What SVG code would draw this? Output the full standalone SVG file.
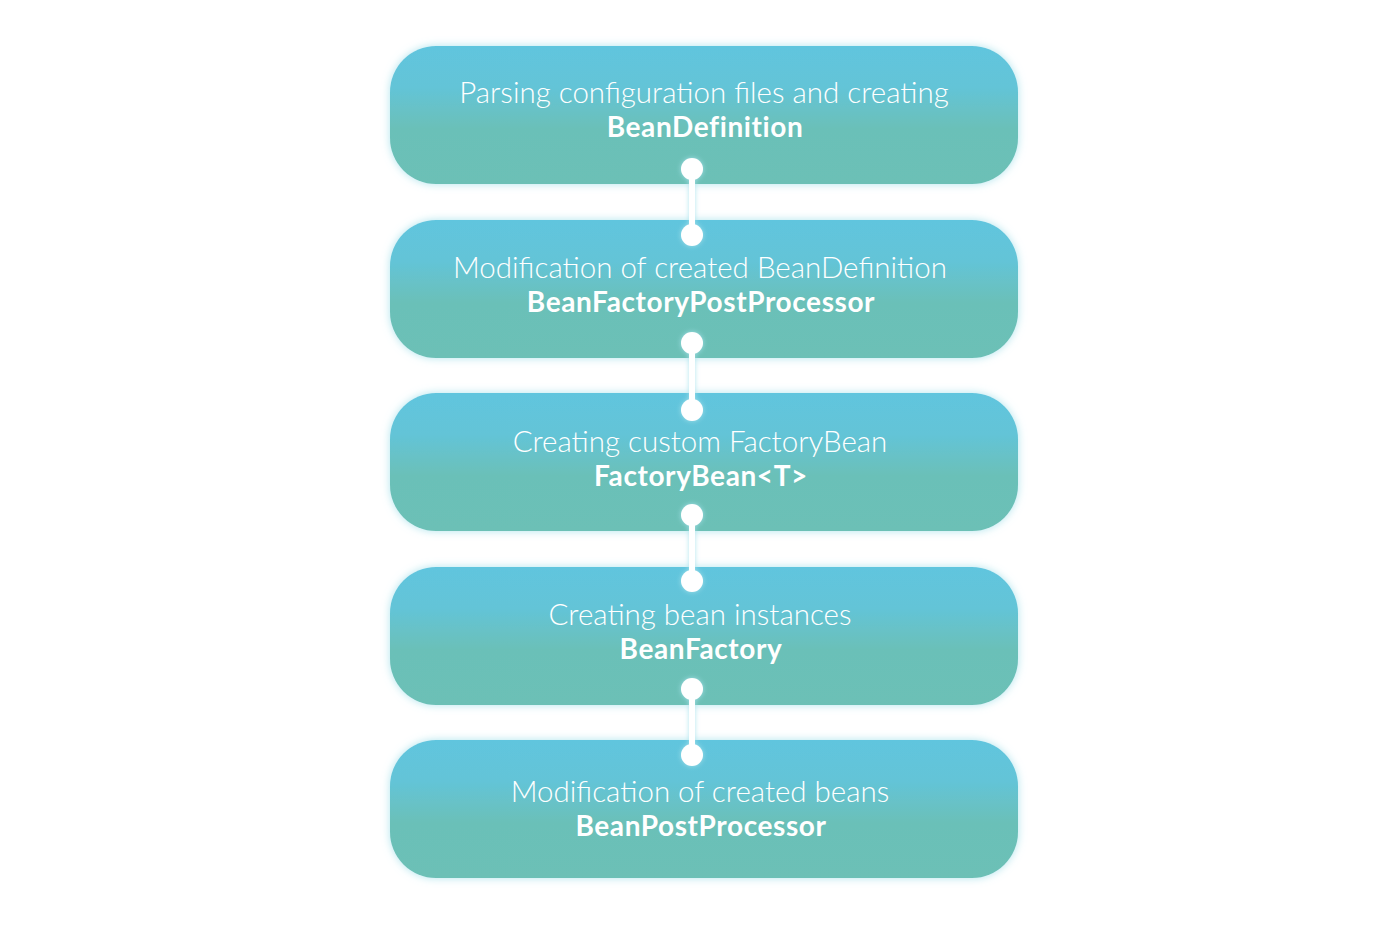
<svg xmlns="http://www.w3.org/2000/svg" width="1400" height="927" viewBox="0 0 1400 927">
<defs>
<linearGradient id="g" x1="0" y1="0" x2="0" y2="1">
<stop offset="0" stop-color="#61c5de"/>
<stop offset="0.3" stop-color="#63c4d7"/>
<stop offset="0.6" stop-color="#6bc0b8"/>
<stop offset="1" stop-color="#6cc0b6"/>
</linearGradient>
<filter id="glow" x="-10%" y="-20%" width="120%" height="140%">
<feDropShadow dx="0" dy="0" stdDeviation="4" flood-color="#a8e2ec" flood-opacity="0.9"/>
</filter>
<filter id="glow2" x="-100%" y="-20%" width="300%" height="140%">
<feDropShadow dx="0" dy="0" stdDeviation="2.5" flood-color="#a8e2ec" flood-opacity="0.9"/>
</filter>
<style>
.box{fill:url(#g);filter:url(#glow)}
.t1{font-family:Lato,"Liberation Sans",sans-serif;font-weight:300;font-size:29.5px;fill:#fff;text-anchor:middle}
.t2{font-family:Lato,"Liberation Sans",sans-serif;font-weight:700;font-size:28px;letter-spacing:0.6px;fill:#fff;text-anchor:middle}
.dot{fill:#fff}
.ln{stroke:#fff;stroke-width:6}
</style>
</defs>
<rect width="1400" height="927" fill="#fff"/>
<g id="node1"><rect class="box" x="390" y="46" width="628" height="138" rx="46"/><text class="t1" x="704" y="103">Parsing configuration files and creating</text><text class="t2" x="705" y="137">BeanDefinition</text></g>
<g id="node2"><rect class="box" x="390" y="220" width="628" height="138" rx="46"/><text class="t1" x="700" y="278">Modification of created BeanDefinition</text><text class="t2" x="701" y="312">BeanFactoryPostProcessor</text></g>
<g id="node3"><rect class="box" x="390" y="393" width="628" height="138" rx="46"/><text class="t1" x="700" y="452">Creating custom FactoryBean</text><text class="t2" x="701" y="486">FactoryBean&lt;T&gt;</text></g>
<g id="node4"><rect class="box" x="390" y="567" width="628" height="138" rx="46"/><text class="t1" x="700" y="625">Creating bean instances</text><text class="t2" x="701" y="659">BeanFactory</text></g>
<g id="node5"><rect class="box" x="390" y="740" width="628" height="138" rx="46"/><text class="t1" x="700" y="802">Modification of created beans</text><text class="t2" x="701" y="836">BeanPostProcessor</text></g>
<g id="connectors" filter="url(#glow2)">
<line class="ln" x1="692" y1="169" x2="692" y2="235"/><circle class="dot" cx="692" cy="169" r="11"/><circle class="dot" cx="692" cy="235" r="11"/>
<line class="ln" x1="692" y1="343" x2="692" y2="410"/><circle class="dot" cx="692" cy="343" r="11"/><circle class="dot" cx="692" cy="410" r="11"/>
<line class="ln" x1="692" y1="515" x2="692" y2="581"/><circle class="dot" cx="692" cy="515" r="11"/><circle class="dot" cx="692" cy="581" r="11"/>
<line class="ln" x1="692" y1="689" x2="692" y2="755"/><circle class="dot" cx="692" cy="689" r="11"/><circle class="dot" cx="692" cy="755" r="11"/>
</g>
</svg>
